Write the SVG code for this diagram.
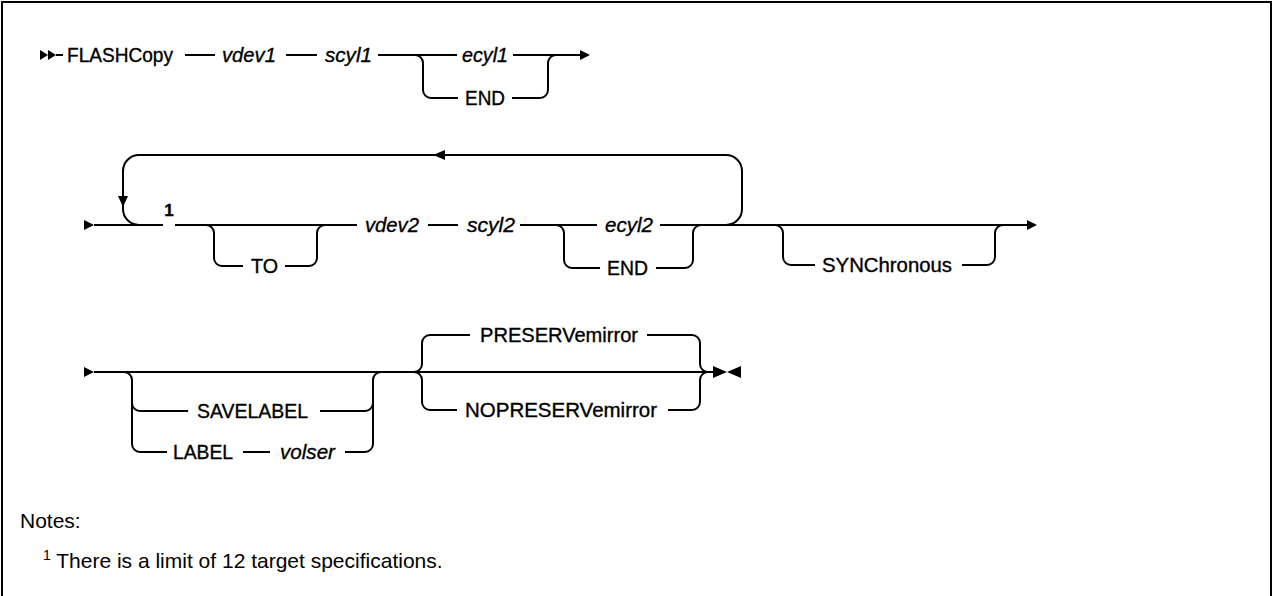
<svg xmlns="http://www.w3.org/2000/svg" width="1273" height="596" viewBox="0 0 1273 596">
<style>
.l{fill:none;stroke:#000;stroke-width:2}
.a{fill:#000;stroke:none}
.t{font-family:"Liberation Sans",Arial,sans-serif;font-size:21px;fill:#000;stroke:#000;stroke-width:0.35}
.v{font-family:"Liberation Sans",Arial,sans-serif;font-size:21px;font-style:italic;fill:#000;stroke:#000;stroke-width:0.35}
.n{font-family:"Liberation Sans",Arial,sans-serif;font-size:21px;fill:#000}
</style>
<rect x="0" y="0" width="1273" height="596" fill="#fff"/>
<rect x="2" y="2" width="1269" height="640" class="l"/>
<g id="connectors">
<polygon class="a" points="40,50 40,60 48,55"/>
<polygon class="a" points="48,50 48,60 56,55"/>
<path class="l" d="M56,55H63 M185,55H215 M286,55H317 M378,55H457 M513,55H582"/>
<path class="l" d="M415,55A8,8 0 0 1 423,63V90A8,8 0 0 0 431,98H458 M512,98H540A8,8 0 0 0 548,90V63A8,8 0 0 1 556,55"/>
<polygon class="a" points="580,50 580,60 590,55"/>
<polygon class="a" points="84,220 84,230 94,225"/>
<path class="l" d="M94,225H163 M175,225H357 M428,225H458 M520,225H597 M660,225H1028"/>
<path class="l" d="M206,225A8,8 0 0 1 214,233V258A8,8 0 0 0 222,266H243 M285,266H309A8,8 0 0 0 317,258V233A8,8 0 0 1 325,225"/>
<path class="l" d="M556,225A8,8 0 0 1 564,233V260A8,8 0 0 0 572,268H600 M656,268H685A8,8 0 0 0 693,260V233A8,8 0 0 1 701,225"/>
<path class="l" d="M726,225A16,16 0 0 0 742,209V171A16,16 0 0 0 726,155H139A16,16 0 0 0 123,171V209A16,16 0 0 0 139,225"/>
<polygon class="a" points="433,155 445,150 445,160"/>
<polygon class="a" points="123,207 118,196 128,196"/>
<path class="l" d="M775,225A8,8 0 0 1 783,233V257A8,8 0 0 0 791,265H815 M962,265H987A8,8 0 0 0 995,257V233A8,8 0 0 1 1003,225"/>
<polygon class="a" points="1027,220 1027,230 1037,225"/>
<polygon class="a" points="84,367 84,377 94,372"/>
<path class="l" d="M94,372H713"/>
<path class="l" d="M124,372A8,8 0 0 1 132,380V444A8,8 0 0 0 140,452H167 M132,403A8,8 0 0 0 140,411H188 M320,411H365A8,8 0 0 0 373,403 M243,452H270 M345,452H365A8,8 0 0 0 373,444V380A8,8 0 0 1 381,372"/>
<path class="l" d="M414,372A8,8 0 0 0 422,364V343A8,8 0 0 1 430,335H470 M647,335H692A8,8 0 0 1 700,343V364A8,8 0 0 0 708,372"/>
<path class="l" d="M414,372A8,8 0 0 1 422,380V402A8,8 0 0 0 430,410H457 M668,410H692A8,8 0 0 0 700,402V380A8,8 0 0 1 708,372"/>
<polygon class="a" points="713,366 713,378 727,372"/>
<polygon class="a" points="741,366 741,378 727,372"/>
</g>
<g id="FLASHCopy"><text class="t" x="67" y="62" textLength="106" lengthAdjust="spacingAndGlyphs">FLASHCopy</text></g>
<g id="vdev1"><text class="v" x="222" y="62" textLength="54" lengthAdjust="spacingAndGlyphs">vdev1</text></g>
<g id="scyl1"><text class="v" x="325" y="62" textLength="47" lengthAdjust="spacingAndGlyphs">scyl1</text></g>
<g id="ecyl1"><text class="v" x="462" y="62" textLength="46" lengthAdjust="spacingAndGlyphs">ecyl1</text></g>
<g id="END1"><text class="t" x="465" y="105" textLength="40" lengthAdjust="spacingAndGlyphs">END</text></g>
<g id="note-ref"><text class="t" x="169" y="216" text-anchor="middle" font-weight="bold" style="font-size:17px">1</text></g>
<g id="TO"><text class="t" x="251" y="273" textLength="27" lengthAdjust="spacingAndGlyphs">TO</text></g>
<g id="vdev2"><text class="v" x="365" y="232" textLength="54" lengthAdjust="spacingAndGlyphs">vdev2</text></g>
<g id="scyl2"><text class="v" x="467" y="232" textLength="48" lengthAdjust="spacingAndGlyphs">scyl2</text></g>
<g id="ecyl2"><text class="v" x="605" y="232" textLength="48" lengthAdjust="spacingAndGlyphs">ecyl2</text></g>
<g id="END2"><text class="t" x="607" y="275" textLength="41" lengthAdjust="spacingAndGlyphs">END</text></g>
<g id="SYNChronous"><text class="t" x="822" y="272" textLength="130" lengthAdjust="spacingAndGlyphs">SYNChronous</text></g>
<g id="SAVELABEL"><text class="t" x="197" y="418" textLength="111" lengthAdjust="spacingAndGlyphs">SAVELABEL</text></g>
<g id="LABEL"><text class="t" x="173" y="459" textLength="60" lengthAdjust="spacingAndGlyphs">LABEL</text></g>
<g id="volser"><text class="v" x="280" y="459" textLength="55" lengthAdjust="spacingAndGlyphs">volser</text></g>
<g id="PRESERVemirror"><text class="t" x="480" y="342" textLength="158" lengthAdjust="spacingAndGlyphs">PRESERVemirror</text></g>
<g id="NOPRESERVemirror"><text class="t" x="465" y="417" textLength="192" lengthAdjust="spacingAndGlyphs">NOPRESERVemirror</text></g>
<g id="notes">
<text class="n" x="20" y="528">Notes:</text>
<text class="n" x="43" y="568"><tspan style="font-size:14px" dy="-8">1</tspan><tspan dy="8"> There is a limit of 12 target specifications.</tspan></text>
</g>
</svg>
